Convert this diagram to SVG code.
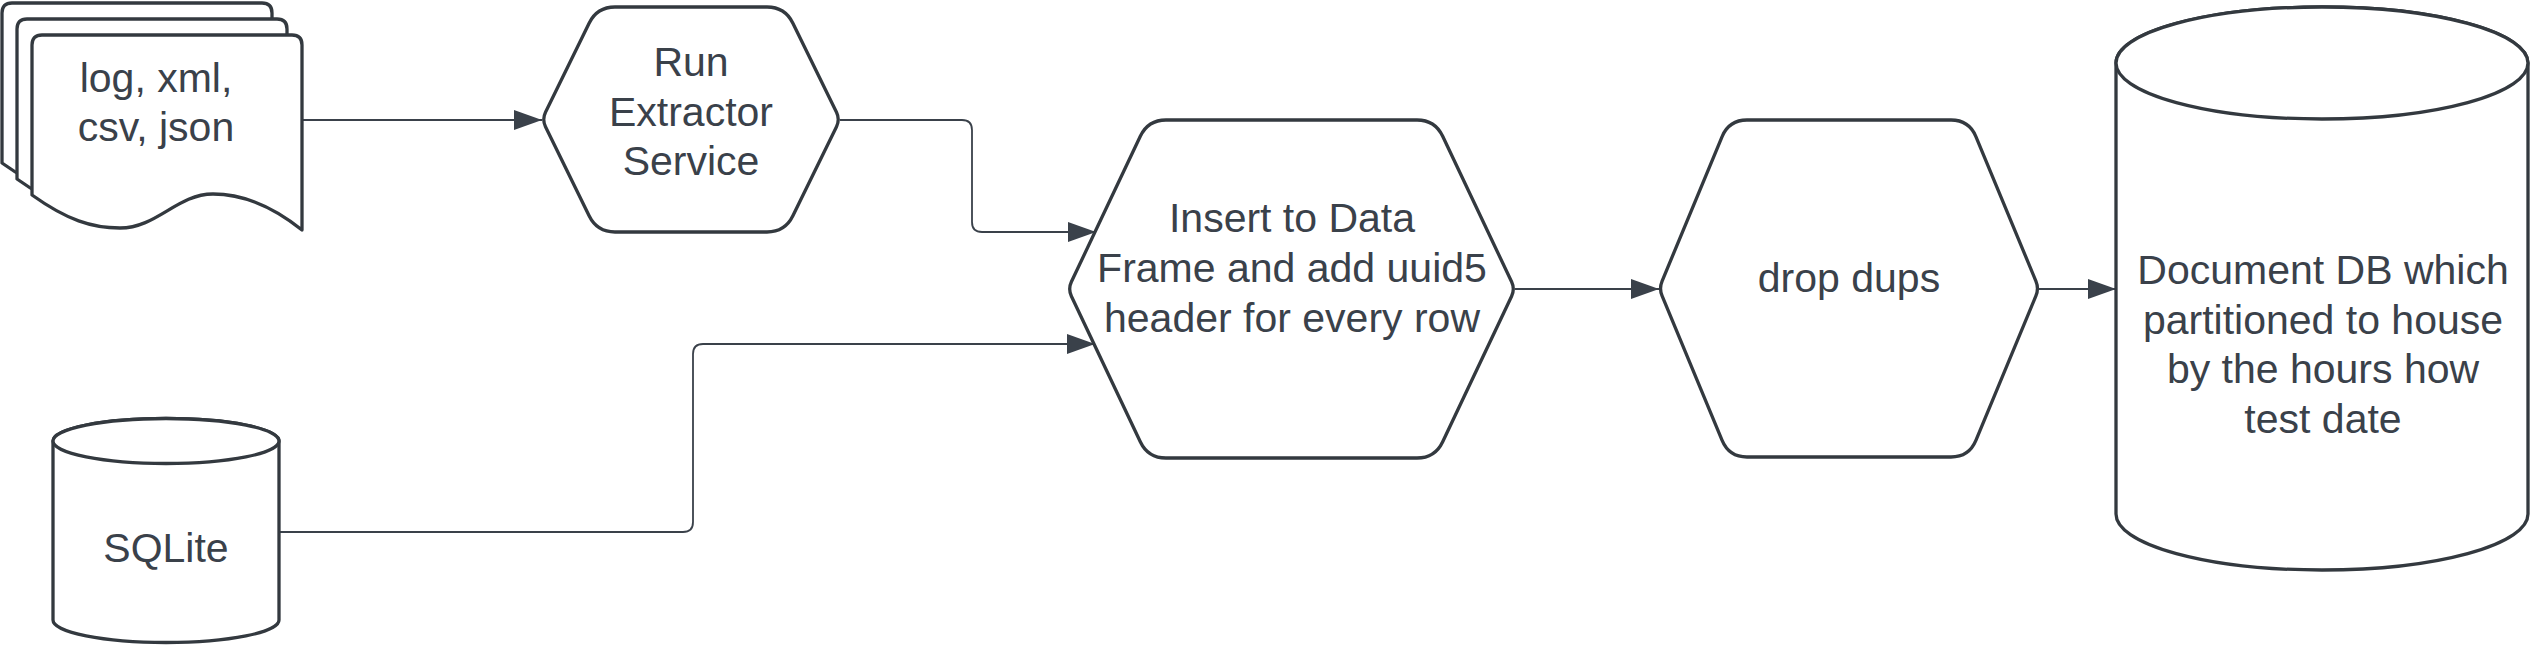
<svg xmlns="http://www.w3.org/2000/svg" xmlns:xlink="http://www.w3.org/1999/xlink" width="2531" height="645" viewBox="0 0 2531 645">
  <style>
    .shape { fill: #ffffff; stroke: #33393f; stroke-width: 3.3; stroke-linejoin: round; }
    .conn { fill: none; stroke: #3a414a; stroke-width: 1.8; }
    .lbl { font-family: "Liberation Sans", Arial, sans-serif; font-size: 41px; fill: #3a414a; text-anchor: middle; }
  </style>
  <defs>
    <marker id="arrow" markerUnits="userSpaceOnUse" viewBox="0 0 28 20" markerWidth="28" markerHeight="20" refX="28" refY="10" orient="auto">
      <path d="M0,0 L28,10 L0,20 Z" fill="#3a414a"/>
    </marker>
    <path id="page" d="M0,160 L0,10 Q0,0 10,0 L260,0 Q270,0 270,10 L270,195 C245,175 215,159 181,159 C145,159 125,193 88,193 C60,193 35,185 0,160 Z"/>
  </defs>

  <g id="connectors">
    <path class="conn" d="M303,120 L542,120" marker-end="url(#arrow)"/>
    <path class="conn" d="M840,120 L962,120 Q972,120 972,130 L972,222 Q972,232 982,232 L1096,232" marker-end="url(#arrow)"/>
    <path class="conn" d="M279,532 L683,532 Q693,532 693,522 L693,354 Q693,344 703,344 L1095,344" marker-end="url(#arrow)"/>
    <path class="conn" d="M1515,289 L1659,289" marker-end="url(#arrow)"/>
    <path class="conn" d="M2039,289 L2116,289" marker-end="url(#arrow)"/>
  </g>

  <g id="files">
    <use xlink:href="#page" href="#page" class="shape" transform="translate(2,3)"/>
    <use xlink:href="#page" href="#page" class="shape" transform="translate(17,19)"/>
    <use xlink:href="#page" href="#page" class="shape" transform="translate(32,35)"/>
    <text class="lbl" x="156" y="92">log, xml,</text>
    <text class="lbl" x="156" y="141">csv, json</text>
  </g>

  <g id="run-extractor">
    <path class="shape" d="M545.5,112.3 L589.1,23.2 Q597,7 615,7 L767,7 Q785,7 792.9,23.2 L836.5,112.3 Q840,119.5 836.5,126.7 L792.9,215.8 Q785,232 767,232 L615,232 Q597,232 589.1,215.8 L545.5,126.7 Q542,119.5 545.5,112.3 Z"/>
    <text class="lbl" x="691" y="76">Run</text>
    <text class="lbl" x="691" y="126">Extractor</text>
    <text class="lbl" x="691" y="175">Service</text>
  </g>

  <g id="sqlite">
    <path class="shape" d="M53,441 L53,620 A113,22.5 0 0 0 279,620 L279,441 A113,22.5 0 0 0 53,441 Z"/>
    <ellipse class="shape" cx="166" cy="441" rx="113" ry="22.5"/>
    <text class="lbl" x="166" y="562">SQLite</text>
  </g>

  <g id="insert-dataframe">
    <path class="shape" d="M1071.4,281.8 L1140.3,136.3 Q1148,120 1166,120 L1417,120 Q1435,120 1442.7,136.3 L1511.6,281.8 Q1515,289 1511.6,296.2 L1442.7,441.7 Q1435,458 1417,458 L1166,458 Q1148,458 1140.3,441.7 L1071.4,296.2 Q1068,289 1071.4,281.8 Z"/>
    <text class="lbl" x="1292" y="232">Insert to Data</text>
    <text class="lbl" x="1292" y="282">Frame and add uuid5</text>
    <text class="lbl" x="1292" y="332">header for every row</text>
  </g>

  <g id="drop-dups">
    <path class="shape" d="M1662.1,281.1 L1722.1,136.6 Q1729,120 1747,120 L1951,120 Q1969,120 1975.9,136.6 L2035.9,281.1 Q2039,288.5 2035.9,295.9 L1975.9,440.4 Q1969,457 1951,457 L1747,457 Q1729,457 1722.1,440.4 L1662.1,295.9 Q1659,288.5 1662.1,281.1 Z"/>
    <text class="lbl" x="1849" y="292">drop dups</text>
  </g>

  <g id="document-db">
    <path class="shape" d="M2116,63 L2116,514 A206,56 0 0 0 2528,514 L2528,63 A206,56 0 0 0 2116,63 Z"/>
    <ellipse class="shape" cx="2322" cy="63" rx="206" ry="56"/>
    <text class="lbl" x="2323" y="284">Document DB which</text>
    <text class="lbl" x="2323" y="334">partitioned to house</text>
    <text class="lbl" x="2323" y="383">by the hours how</text>
    <text class="lbl" x="2323" y="433">test date</text>
  </g>
</svg>
